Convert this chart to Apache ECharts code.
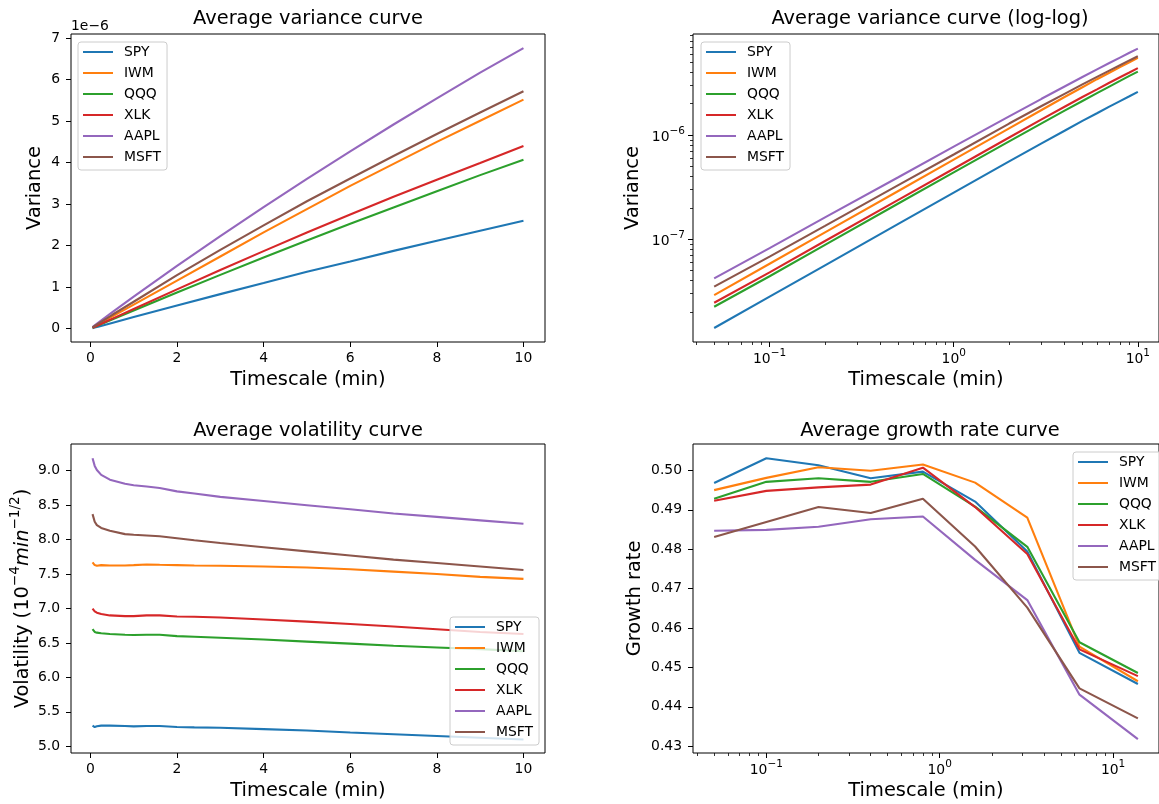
<!DOCTYPE html>
<html>
<head>
<meta charset="utf-8">
<script src="https://cdn.jsdelivr.net/npm/echarts@6/dist/echarts.min.js"></script>
<style>
  html, body { margin: 0; padding: 0; background: #fff; }
  #chart { width: 1159px; height: 804px; }
</style>
</head>
<body>
<div id="chart"></div>
<script>
const tickers = ['SPY', 'IWM', 'QQQ', 'XLK', 'AAPL', 'MSFT'];
const colors = ['#1f77b4', '#ff7f0e', '#2ca02c', '#d62728', '#9467bd', '#8c564b'];

// variance curve, values in units of 1e-6
const varScales = [0.05, 0.1, 0.2, 0.5, 1, 2, 3, 4, 5, 6, 7, 8, 9, 10];
const varSPY  = [0.014, 0.028, 0.056, 0.14, 0.28, 0.558, 0.833, 1.10, 1.37, 1.62, 1.875, 2.12, 2.36, 2.60];
const varIWM  = [0.029, 0.058, 0.116, 0.29, 0.58, 1.16, 1.74, 2.32, 2.88, 3.44, 3.97, 4.50, 5.01, 5.52];
const varQQQ  = [0.0224, 0.044, 0.088, 0.22, 0.438, 0.871, 1.297, 1.716, 2.125, 2.527, 2.92, 3.31, 3.70, 4.07];
const varXLK  = [0.0245, 0.048, 0.096, 0.238, 0.475, 0.948, 1.416, 1.87, 2.32, 2.75, 3.18, 3.59, 3.99, 4.40];
const varAAPL = [0.042, 0.082, 0.162, 0.393, 0.773, 1.514, 2.23, 2.93, 3.61, 4.27, 4.92, 5.55, 6.17, 6.76];
const varMSFT = [0.035, 0.068, 0.134, 0.33, 0.65, 1.29, 1.90, 2.49, 3.07, 3.62, 4.16, 4.69, 5.21, 5.72];

// volatility curve (1e-4 min^-1/2)
const volScales = [0.05, 0.1, 0.15, 0.25, 0.45, 0.8, 1.0, 1.3, 1.6, 2.0, 2.4, 3.0, 4.0, 5.0, 6.0, 7.0, 8.0, 9.0, 10.0];
const volSPY  = [5.30, 5.28, 5.29, 5.30, 5.30, 5.295, 5.29, 5.295, 5.295, 5.28, 5.275, 5.27, 5.25, 5.23, 5.20, 5.175, 5.15, 5.125, 5.10];
const volIWM  = [7.67, 7.63, 7.62, 7.63, 7.625, 7.625, 7.63, 7.64, 7.635, 7.63, 7.625, 7.62, 7.61, 7.595, 7.57, 7.535, 7.50, 7.46, 7.43];
const volQQQ  = [6.70, 6.66, 6.65, 6.64, 6.63, 6.62, 6.615, 6.62, 6.62, 6.60, 6.59, 6.575, 6.55, 6.52, 6.49, 6.46, 6.435, 6.41, 6.38];
const volXLK  = [7.00, 6.96, 6.94, 6.92, 6.90, 6.89, 6.89, 6.90, 6.90, 6.885, 6.88, 6.87, 6.84, 6.81, 6.775, 6.74, 6.70, 6.66, 6.63];
const volAAPL = [9.18, 9.07, 9.01, 8.94, 8.87, 8.81, 8.79, 8.77, 8.75, 8.70, 8.67, 8.62, 8.56, 8.50, 8.44, 8.38, 8.33, 8.28, 8.23];
const volMSFT = [8.37, 8.26, 8.21, 8.17, 8.13, 8.08, 8.07, 8.06, 8.05, 8.02, 7.99, 7.95, 7.89, 7.83, 7.77, 7.71, 7.66, 7.61, 7.56];

// growth rate curve
const growthScales = [0.05, 0.1, 0.2, 0.4, 0.8, 1.6, 3.2, 6.4, 13.9];
const grSPY  = [0.4968, 0.5031, 0.5013, 0.4980, 0.4997, 0.4921, 0.4794, 0.4537, 0.4458];
const grIWM  = [0.4950, 0.4981, 0.5008, 0.4999, 0.5015, 0.4969, 0.4880, 0.4553, 0.4465];
const grQQQ  = [0.4928, 0.4971, 0.4980, 0.4971, 0.4991, 0.4908, 0.4806, 0.4564, 0.4486];
const grXLK  = [0.4923, 0.4948, 0.4957, 0.4964, 0.5007, 0.4907, 0.4788, 0.4546, 0.4478];
const grAAPL = [0.4847, 0.4849, 0.4857, 0.4876, 0.4883, 0.4773, 0.4671, 0.4431, 0.4318];
const grMSFT = [0.4831, 0.4869, 0.4907, 0.4892, 0.4928, 0.4807, 0.4652, 0.4447, 0.4371];

// tick labels
const linTicksX = [0, 2, 4, 6, 8, 10];
const varTicksY = [0, 1, 2, 3, 4, 5, 6, 7];
const volTicksY = [5.0, 5.5, 6.0, 6.5, 7.0, 7.5, 8.0, 8.5, 9.0];
const grTicksY = [0.43, 0.44, 0.45, 0.46, 0.47, 0.48, 0.49, 0.50];
const logTicksX = [0.1, 1, 10];
const logTicksY = [1e-7, 1e-6];

const variance = [varSPY, varIWM, varQQQ, varXLK, varAAPL, varMSFT];
const volatility = [volSPY, volIWM, volQQQ, volXLK, volAAPL, volMSFT];
const growth = [grSPY, grIWM, grQQQ, grXLK, grAAPL, grMSFT];

const FONT = 'DejaVu Sans';
const TICK_FS = 13.9;
const LABEL_FS = 19.4;

// minor ticks of log axes, 2..9 in every decade
function minorTicks(decades) {
  const out = [];
  decades.forEach(d => {
    for (let m = 2; m <= 9; m++) out.push(Number((m * Math.pow(10, d)).toPrecision(3)));
  });
  return out;
}

const supRich = {
  b: { fontFamily: FONT, fontSize: TICK_FS, lineHeight: 18, verticalAlign: 'bottom', color: '#000' },
  s: { fontFamily: FONT, fontSize: 10.5, lineHeight: 8, verticalAlign: 'top', color: '#000' }
};
function logLabel(v) {
  const e = Math.round(Math.log10(v));
  return '{b|10}{s|' + (e < 0 ? '\u2212' : '') + Math.abs(e) + '}';
}

const nameStyle = { fontFamily: FONT, fontSize: LABEL_FS, color: '#000', lineHeight: 24 };

// axisLine: value axes stay on the frame edge by pointing onZero at a hidden helper axis
function makeAxis(type, gridIndex, min, max, ticks, tickLen, label, extra, zeroRef) {
  return Object.assign({
    type, gridIndex, min, max,
    axisLine: zeroRef == null
      ? { show: false, onZero: false }
      : { show: false, onZero: true, onZeroAxisIndex: zeroRef },
    splitLine: { show: false },
    axisTick: { show: true, length: tickLen, lineStyle: { color: '#000', width: tickLen > 4 ? 1 : 0.8 }, customValues: ticks },
    axisLabel: label
      ? Object.assign({ color: '#000', fontFamily: FONT, fontSize: TICK_FS, margin: 9, customValues: ticks }, label)
      : { show: false },
    nameLocation: 'middle',
    nameTextStyle: nameStyle
  }, extra);
}
function helperAxis(gridIndex) {
  return { type: 'value', gridIndex, min: 1, max: 2, show: false };
}
const logLabelOpt = { formatter: logLabel, rich: supRich };

const grids = [
  { left: 71, top: 34, width: 474, height: 308 },
  { left: 693, top: 34, width: 474, height: 308 },
  { left: 71, top: 444, width: 474, height: 309 },
  { left: 693, top: 444, width: 474, height: 309 }
].map(g => Object.assign(g, { show: true, borderColor: '#000', borderWidth: 1, backgroundColor: 'transparent' }));

const xName = { name: 'Timescale (min)', nameGap: 26, position: 'bottom' };
const xAxes = [
  makeAxis('value', 0, -0.4475, 10.4975, linTicksX, 5, { formatter: v => String(v) }, xName, 5),
  makeAxis('log', 1, 0.03837, 13.03, logTicksX, 5, Object.assign({}, logLabelOpt, { margin: 6 }), xName),
  makeAxis('log', 1, 0.03837, 13.03, minorTicks([-2, -1, 0, 1]), 3, null, { position: 'bottom' }),
  makeAxis('value', 2, -0.4475, 10.4975, linTicksX, 5, { formatter: v => String(v) }, xName, 6),
  makeAxis('log', 3, 0.03776, 18.4, logTicksX, 5, Object.assign({}, logLabelOpt, { margin: 6 }), xName),
  makeAxis('log', 3, 0.03776, 18.4, minorTicks([-2, -1, 0, 1]), 3, null, { position: 'bottom' }),
  helperAxis(0),
  helperAxis(2),
  helperAxis(3)
];

const yAxes = [
  makeAxis('value', 0, -0.32, 7.1, varTicksY, 5, { margin: 11, formatter: v => String(v) },
    { name: 'Variance', nameGap: 23, position: 'left' }, 6),
  makeAxis('log', 1, 1.028e-8, 9.35e-6, logTicksY, 5, Object.assign({}, logLabelOpt, { margin: 8 }),
    { name: 'Variance', nameGap: 48.5, position: 'left' }),
  makeAxis('log', 1, 1.028e-8, 9.35e-6, minorTicks([-8, -7, -6]), 3, null, { position: 'left' }),
  makeAxis('value', 2, 4.903, 9.388, volTicksY, 5, { margin: 11, formatter: v => v.toFixed(1) }, {
    name: '{n|Volatility (10}{s|\u22124}{i|min}{s|\u22121/2}{n|)}',
    nameGap: 39,
    position: 'left',
    nameTextStyle: {
      rich: {
        n: { fontFamily: FONT, fontSize: LABEL_FS, lineHeight: 24, verticalAlign: 'bottom', color: '#000' },
        i: { fontFamily: FONT, fontSize: LABEL_FS, lineHeight: 24, verticalAlign: 'bottom', fontStyle: 'italic', color: '#000' },
        s: { fontFamily: FONT, fontSize: 13.6, lineHeight: 11, verticalAlign: 'top', color: '#000' }
      }
    }
  }, 7),
  makeAxis('value', 3, 0.4283, 0.5067, grTicksY, 5, { margin: 11, formatter: v => v.toFixed(2) },
    { name: 'Growth rate', nameGap: 46, position: 'left' }, 8),
  helperAxis(0),
  helperAxis(2)
];

const titleStyle = { fontFamily: FONT, fontSize: LABEL_FS, fontWeight: 'normal', color: '#000', lineHeight: 24 };
const titles = [
  { text: 'Average variance curve', left: 308, top: 7, textAlign: 'center', padding: 0, textStyle: titleStyle },
  { text: 'Average variance curve (log-log)', left: 930, top: 7, textAlign: 'center', padding: 0, textStyle: titleStyle },
  { text: 'Average volatility curve', left: 308, top: 419, textAlign: 'center', padding: 0, textStyle: titleStyle },
  { text: 'Average growth rate curve', left: 930, top: 419, textAlign: 'center', padding: 0, textStyle: titleStyle },
  { text: '1e\u22126', left: 71, top: 17, padding: 0,
    textStyle: { fontFamily: FONT, fontSize: TICK_FS, fontWeight: 'normal', color: '#000', lineHeight: 18 } }
];

function legendAt(left, top) {
  return {
    data: tickers, orient: 'vertical', left, top,
    icon: 'rect', itemWidth: 30, itemHeight: 2, itemGap: 7,
    padding: [3, 6, 6, 5],
    backgroundColor: 'rgba(255,255,255,0.8)', borderColor: '#cccccc', borderWidth: 1, borderRadius: 3,
    selectedMode: false,
    textStyle: { fontFamily: FONT, fontSize: TICK_FS, color: '#000', lineHeight: 14, padding: [0, 0, 0, 6] }
  };
}
const legends = [legendAt(78, 42), legendAt(701, 42), legendAt(450, 617), legendAt(1073, 452)];

const series = [];
function addLines(xIdx, yIdx, xs, table, scale) {
  tickers.forEach((name, k) => {
    series.push({
      name, type: 'line', xAxisIndex: xIdx, yAxisIndex: yIdx,
      data: xs.map((t, i) => [t, table[k][i] * scale]),
      symbol: 'none', showSymbol: false,
      lineStyle: { width: 2.1, color: colors[k] },
      itemStyle: { color: colors[k] }
    });
  });
}
addLines(0, 0, varScales, variance, 1);
addLines(1, 1, varScales, variance, 1e-6);
addLines(3, 3, volScales, volatility, 1);
addLines(4, 4, growthScales, growth, 1);

const chart = echarts.init(document.getElementById('chart'), null, { renderer: 'canvas' });
chart.setOption({
  animation: false,
  backgroundColor: '#fff',
  title: titles,
  legend: legends,
  grid: grids,
  xAxis: xAxes,
  yAxis: yAxes,
  series
});
</script>
</body>
</html>
